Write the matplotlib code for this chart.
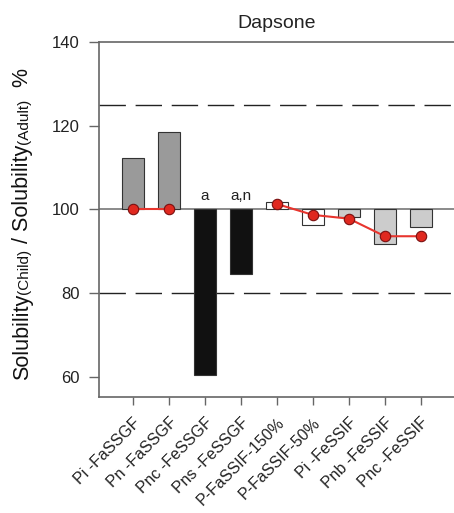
import numpy as np
import matplotlib.pyplot as plt

plt.rcParams['font.family'] = ['Liberation Sans', 'DejaVu Sans']

# data
labels = ['Pi -FaSSGF', 'Pn -FaSSGF', 'Pnc -FeSSGF', 'Pns -FeSSGF', 'P-FaSSIF-150%',
          'P-FaSSIF-50%', 'Pi -FeSSIF', 'Pnb -FeSSIF', 'Pnc -FeSSIF']
bar_vals = [112.2, 118.6, 60.5, 84.7, 101.7, 96.4, 98.2, 91.8, 95.8]
bar_cols = ['#9a9a9a', '#9a9a9a', '#111111', '#111111', '#ffffff', '#ffffff',
            '#cccccc', '#cccccc', '#cccccc']
pts_a_x = [0, 1]
pts_a_y = [100, 100]
pts_b_x = [4, 5, 6, 7, 8]
pts_b_y = [101.3, 98.7, 97.8, 93.6, 93.6]
notes = {2: 'a', 3: 'a,n'}

fig = plt.figure(figsize=(4.54, 5.13), dpi=100)
ax = fig.add_axes([99/454, 1 - 397/513, 1 - 99/454, (397 - 42)/513])

x = np.arange(len(labels))
base = 100
ax.bar(x, np.array(bar_vals) - base, bottom=base, width=0.6, color=bar_cols,
       edgecolor='#333333', linewidth=0.8, zorder=2)

ax.axhline(100, color='#777777', lw=1.2, zorder=1)
ax.axhline(125, color='#222222', lw=1.0, dashes=(19, 7), zorder=1)
ax.axhline(80, color='#222222', lw=1.0, dashes=(19, 7), zorder=1)

for xs, ys in [(pts_a_x, pts_a_y), (pts_b_x, pts_b_y)]:
    ax.plot(xs, ys, '-', color='#e8352e', lw=1.5, zorder=3)
    ax.plot(xs, ys, 'o', color='#e0281f', mec='#7a1010', mew=0.8, ms=7.5, zorder=4)

for i, t in notes.items():
    ax.text(i, 101.6, t, ha='center', va='bottom', fontsize=11, color='#222222')

ax.set_xlim(-0.944, 8.92)
ax.set_ylim(55.2, 140)
ax.set_yticks([60, 80, 100, 120, 140])
ax.set_xticks(x)
ax.set_xticklabels(labels, rotation=45, ha='right', rotation_mode='anchor', fontsize=11.5)
ax.tick_params(axis='y', labelsize=12, length=7, width=1, color='#666666', pad=7,
               labelcolor='#222222')
ax.tick_params(axis='x', length=6, width=1, color='#666666', pad=7, labelcolor='#222222')
ax.spines['right'].set_visible(False)
for s in ['left', 'bottom', 'top']:
    ax.spines[s].set_color('#666666')
    ax.spines[s].set_linewidth(1.2)

ax.set_title('Dapsone', fontsize=14, pad=10, color='#222222')

# y label made of pieces with different sizes
parts = [('Solubility', 15.5), ('(Child)', 11), (' / Solubility', 15.5), ('(Adult)', 11), ('  %', 15.5)]
fig.canvas.draw()
r = fig.canvas.get_renderer()
yy = 133 / 513
for t, fs in parts:
    tx = fig.text(28 / 454, yy, t, rotation=90, rotation_mode='anchor', ha='left',
                  va='baseline', fontsize=fs, color='#111111')
    bb = tx.get_window_extent(r)
    yy += bb.height / fig.bbox.height

plt.savefig('out.png', dpi=100)
